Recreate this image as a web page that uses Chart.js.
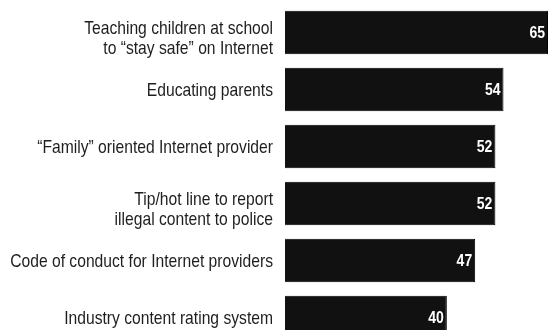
<!DOCTYPE html>
<html>
<head>
<meta charset="utf-8">
<script src="https://cdn.jsdelivr.net/npm/chart.js@4"></script>
<style>
  html, body { margin: 0; padding: 0; background: #fff; overflow: hidden; }
  #wrap { width: 548px; height: 330px; overflow: hidden; }
</style>
</head>
<body>
<div id="wrap"><canvas id="medidas" width="548" height="350"></canvas></div>
<script>
// Preferred measures, % of respondents
var etiquetas = [
    ['Teaching children at school', 'to \u201cstay safe\u201d on Internet'],
    'Educating parents',
    '\u201cFamily\u201d oriented Internet provider',
    ['Tip/hot line to report', 'illegal content to police'],
    'Code of conduct for Internet providers',
    'Industry content rating system'
];
var valores = [65, 54, 52, 52, 47, 40];

var fuente = '"Liberation Sans", Arial, sans-serif';
var estrecho = 0.824; // horizontal squeeze, narrow type look

function textoEstrecho(ctx, texto, x, y) {
    ctx.save();
    ctx.translate(x, y);
    ctx.scale(estrecho, 1);
    ctx.fillText(texto, 0, 0);
    ctx.restore();
}

// category names to the left of the bars, right aligned
var etiquetasEje = {
    id: 'etiquetasEje',
    afterDraw: function (chart) {
        var ctx = chart.ctx;
        var y = chart.scales.y;
        var xDer = chart.chartArea.left - 12;
        var interlinea = 20;
        ctx.save();
        ctx.font = '19px ' + fuente;
        ctx.fillStyle = '#1e1e1e';
        ctx.textAlign = 'right';
        ctx.textBaseline = 'middle';
        etiquetas.forEach(function (et, i) {
            var lineas = Array.isArray(et) ? et : [et];
            var yc = y.getPixelForTick(i) - (lineas.length - 1) * interlinea / 2;
            if (lineas.length > 1) yc += 5;
            lineas.forEach(function (l, j) {
                textoEstrecho(ctx, l, xDer, yc + j * interlinea + 1);
            });
        });
        ctx.restore();
    }
};

// writes each value in white, just inside the end of its bar
var valoresEnBarra = {
    id: 'valoresEnBarra',
    afterDatasetsDraw: function (chart) {
        var ctx = chart.ctx;
        var meta = chart.getDatasetMeta(0);
        ctx.save();
        ctx.font = 'bold 17px ' + fuente;
        ctx.fillStyle = '#fff';
        ctx.textAlign = 'right';
        ctx.textBaseline = 'middle';
        meta.data.forEach(function (bar, i) {
            textoEstrecho(ctx, String(valores[i]), bar.x - 3, bar.y + 1);
        });
        ctx.restore();
    }
};

var ctx = document.getElementById('medidas').getContext('2d');
var chart = new Chart(ctx, {
    type: 'bar',
    data: {
        labels: etiquetas,
        datasets: [{
            data: valores,
            backgroundColor: '#111111',
            borderColor: '#000000',
            borderWidth: 1,
            barPercentage: 0.765,
            categoryPercentage: 1
        }]
    },
    options: {
        indexAxis: 'y',
        responsive: false,
        animation: false,
        layout: {
            padding: { top: 4, right: 0, bottom: 4, left: 0 }
        },
        plugins: {
            legend: { display: false },
            tooltip: { enabled: false }
        },
        scales: {
            x: {
                display: false,
                min: 0,
                max: 65
            },
            y: {
                grid: { display: false },
                border: { display: false },
                ticks: { display: false },
                afterFit: function (axis) {
                    axis.width = 285;
                    axis.paddingTop = 0;
                    axis.paddingBottom = 0;
                }
            }
        }
    },
    plugins: [valoresEnBarra, etiquetasEje]
});
</script>
</body>
</html>
